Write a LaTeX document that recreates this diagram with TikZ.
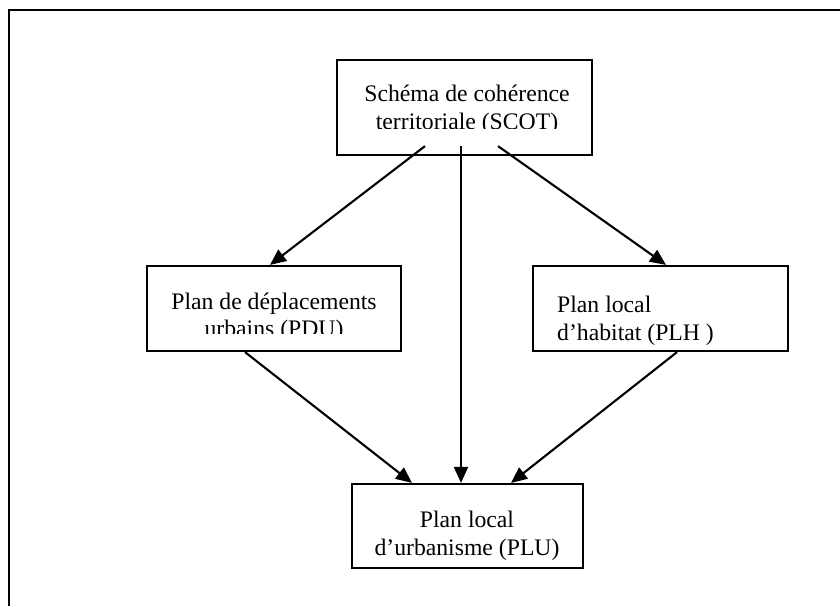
\documentclass[tikz,border=0pt]{standalone}
\usepackage{fontspec}
\setmainfont{Liberation Serif}
\usetikzlibrary{arrows.meta,calc}
\begin{document}
\begin{tikzpicture}[x=1pt,y=-1pt,
  box/.style={draw=black,line width=2.2pt,minimum width=#1,inner sep=0pt},
  lbl/.style={anchor=base,inner sep=0pt,font=\fontsize{23.7}{27}\selectfont},
  lblw/.style={anchor=base west,inner sep=0pt,font=\fontsize{23.7}{27}\selectfont},
  arr/.style={line width=2.1pt,-{Triangle[length=16pt,width=14pt]}}]
\useasboundingbox (0,0) rectangle (840,606);
% outer frame (left and top edges)
\draw[line width=2.2pt] (9,606) -- (9,10) -- (840,10);
% boxes
\node[box=255pt,minimum height=95pt] (scot) at (464.5,107.5) {};
\node[box=254pt,minimum height=85pt] (pdu) at (274,308.5) {};
\node[box=255pt,minimum height=85pt] (plh) at (660.5,308.5) {};
\node[box=231pt,minimum height=84pt] (plu) at (467.5,526) {};
% texts
\node[lbl] (t1a) at (467,101.5) {Schéma de cohérence};
\begin{scope}
\clip (340,105) rectangle (590,128.8);
\node[lbl] (t1b) at (467,129.5) {territoriale (SCOT)};
\end{scope}
\node[lbl] (t2a) at (274,309) {Plan de déplacements};
\begin{scope}
\clip (150,312) rectangle (398,333.5);
\node[lbl] (t2b) at (274,336) {urbains (PDU)};
\end{scope}
\node[lblw] (t3a) at (557,312.5) {Plan local};
\node[lblw] (t3b) at (557,340.5) {d’habitat (PLH )};
\node[lbl] (t4a) at (467,527) {Plan local};
\node[lbl] (t4b) at (467,555.5) {d’urbanisme (PLU)};
% connector anchor points
\coordinate (s1) at ($(scot.south)+(-39.5,-10)$);
\coordinate (s2) at ($(scot.south)+(-3.5,-10)$);
\coordinate (s3) at ($(scot.south)+(33.5,-10)$);
\coordinate (e1) at ($(pdu.north)+(-4,0)$);
\coordinate (e3) at ($(plh.north)+(5.5,0)$);
\coordinate (u1) at ($(plu.north)+(-55.5,0)$);
\coordinate (u2) at ($(plu.north)+(-6.5,0)$);
\coordinate (u3) at ($(plu.north)+(43.5,0)$);
\coordinate (p1) at ($(pdu.south)+(-29,0)$);
\coordinate (p3) at ($(plh.south)+(16.5,0)$);
% connectors
\draw[arr] (s1) -- (e1);
\draw[arr] (s2) -- (u2);
\draw[arr] (s3) -- (e3);
\draw[arr] (p1) -- (u1);
\draw[arr] (p3) -- (u3);
\end{tikzpicture}
\end{document}
